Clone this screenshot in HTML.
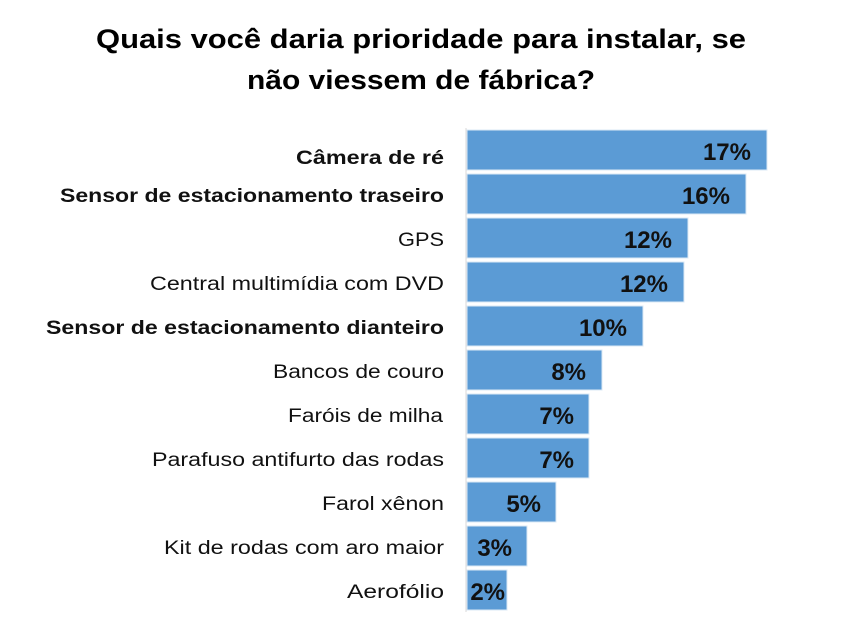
<!DOCTYPE html>
<html><head><style>body{margin:0;background:#fff}</style></head><body>
<svg width="841" height="635" xmlns="http://www.w3.org/2000/svg" font-family="Liberation Sans, sans-serif">
<text x="421" y="48" text-anchor="middle" font-weight="bold" font-size="27" textLength="650" lengthAdjust="spacingAndGlyphs">Quais você daria prioridade para instalar, se</text>
<text x="421" y="89" text-anchor="middle" font-weight="bold" font-size="27" textLength="348" lengthAdjust="spacingAndGlyphs">não viessem de fábrica?</text>
<line x1="466" y1="128" x2="466" y2="612" stroke="#d9d9d9" stroke-width="1"/>
<g fill="#5b9bd5" stroke="#dbe8f5" stroke-width="1">
<rect x="467" y="130" width="300" height="40"/>
<rect x="467" y="174" width="279" height="40"/>
<rect x="467" y="218" width="221" height="40"/>
<rect x="467" y="262" width="217" height="40"/>
<rect x="467" y="306" width="176" height="40"/>
<rect x="467" y="350" width="135" height="40"/>
<rect x="467" y="394" width="122" height="40"/>
<rect x="467" y="438" width="122" height="40"/>
<rect x="467" y="482" width="89" height="40"/>
<rect x="467" y="526" width="60" height="40"/>
<rect x="467" y="570" width="40" height="40"/>
</g>
<g font-size="24" font-weight="bold" text-anchor="end" fill="#111">
<text x="751" y="160">17%</text>
<text x="730" y="204">16%</text>
<text x="672" y="248">12%</text>
<text x="668" y="292">12%</text>
<text x="627" y="336">10%</text>
<text x="586" y="380">8%</text>
<text x="574" y="424">7%</text>
<text x="574" y="468">7%</text>
<text x="541" y="512">5%</text>
<text x="512" y="556">3%</text>
<text x="505" y="600">2%</text>
</g>
<g font-size="19" text-anchor="end" fill="#111">
<text x="444" y="164" font-weight="bold" textLength="148" lengthAdjust="spacingAndGlyphs">Câmera de ré</text>
<text x="444" y="202" font-weight="bold" textLength="384" lengthAdjust="spacingAndGlyphs">Sensor de estacionamento traseiro</text>
<text x="444" y="246" textLength="46" lengthAdjust="spacingAndGlyphs">GPS</text>
<text x="444" y="290" textLength="294" lengthAdjust="spacingAndGlyphs">Central multimídia com DVD</text>
<text x="444" y="334" font-weight="bold" textLength="398" lengthAdjust="spacingAndGlyphs">Sensor de estacionamento dianteiro</text>
<text x="444" y="378" textLength="171" lengthAdjust="spacingAndGlyphs">Bancos de couro</text>
<text x="443" y="422" textLength="155" lengthAdjust="spacingAndGlyphs">Faróis de milha</text>
<text x="444" y="466" textLength="292" lengthAdjust="spacingAndGlyphs">Parafuso antifurto das rodas</text>
<text x="444" y="510" textLength="122" lengthAdjust="spacingAndGlyphs">Farol xênon</text>
<text x="444" y="554" textLength="280" lengthAdjust="spacingAndGlyphs">Kit de rodas com aro maior</text>
<text x="444" y="598" textLength="97" lengthAdjust="spacingAndGlyphs">Aerofólio</text>
</g>
</svg>
</body></html>
